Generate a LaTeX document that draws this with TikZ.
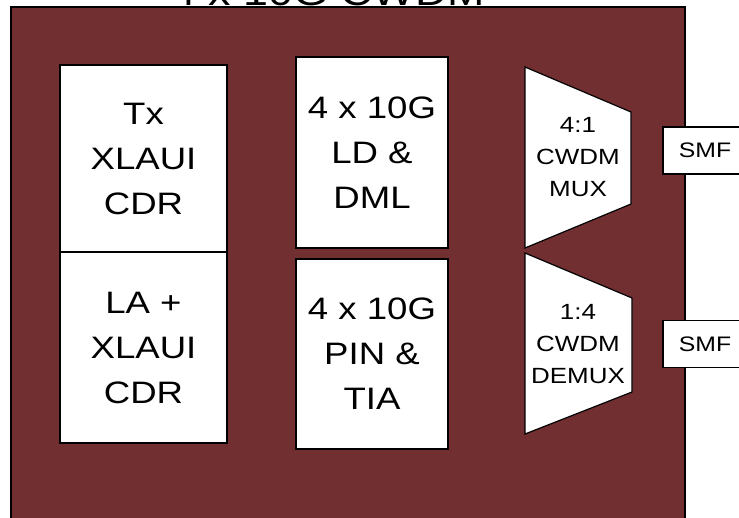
\documentclass[tikz,border=0pt]{standalone}
\usepackage{fontspec}
\usepackage{tikz}
\usepackage{xcolor}

\newfontfamily\diagfont[FakeStretch=1.18]{Liberation Sans}
\definecolor{chipred}{RGB}{114,47,49}

\begin{document}
\begin{tikzpicture}[x=1pt, y=-1pt,
    blk/.style={rectangle, draw, fill=white, line width=1.2pt, inner sep=0pt, align=center, font=\diagfont\fontsize{31}{45}\selectfont},
    port/.style={rectangle, draw, fill=white, line width=1.2pt, inner sep=0pt, minimum width=84pt, minimum height=47pt, font=\diagfont\fontsize{21}{32}\selectfont},
    trap/.style={draw, fill=white, line width=1.2pt, line join=miter},
    traplabel/.style={align=center, inner sep=0pt, font=\diagfont\fontsize{22}{32}\selectfont}]

    \useasboundingbox (0,0) rectangle (739,517);
    \clip (0,0) rectangle (739,517);

    % Module outline
    \draw[fill=chipred, line width=1.5pt] (11,7) rectangle (685,540);
    \node[anchor=base, inner sep=0pt, font=\diagfont\fontsize{38}{45}\selectfont] (title) at (328,5.5) {4 x 10G CWDM};

    % Electrical side
    \node[blk, minimum width=167pt, minimum height=187pt] (txcdr) at (143.5,158.5) {Tx\\XLAUI\\CDR};
    \node[blk, minimum width=167pt, minimum height=191pt] (rxcdr) at (143.5,347.5) {LA +\\XLAUI\\CDR};

    % Optics
    \node[blk, minimum width=152pt, minimum height=191pt] (ldml) at (372,152.5) {4 x 10G\\LD \&\\DML};
    \node[blk, minimum width=152pt, minimum height=190pt] (pintia) at (372,354) {4 x 10G\\PIN \&\\TIA};

    % Mux / demux
    \draw[trap] (525,67) -- (631,112) -- (631,204) -- (525,248) -- cycle;
    \node[traplabel] (mux) at (578,157) {4:1\\CWDM\\MUX};
    \draw[trap] (525,253) -- (632,298) -- (632,392) -- (525,434) -- cycle;
    \node[traplabel] (demux) at (578,344) {1:4\\CWDM\\DEMUX};

    % Fibre ports
    \node[port] (smftx) at (705,150.5) {SMF};
    \node[port] (smfrx) at (705,344) {SMF};
\end{tikzpicture}
\end{document}
